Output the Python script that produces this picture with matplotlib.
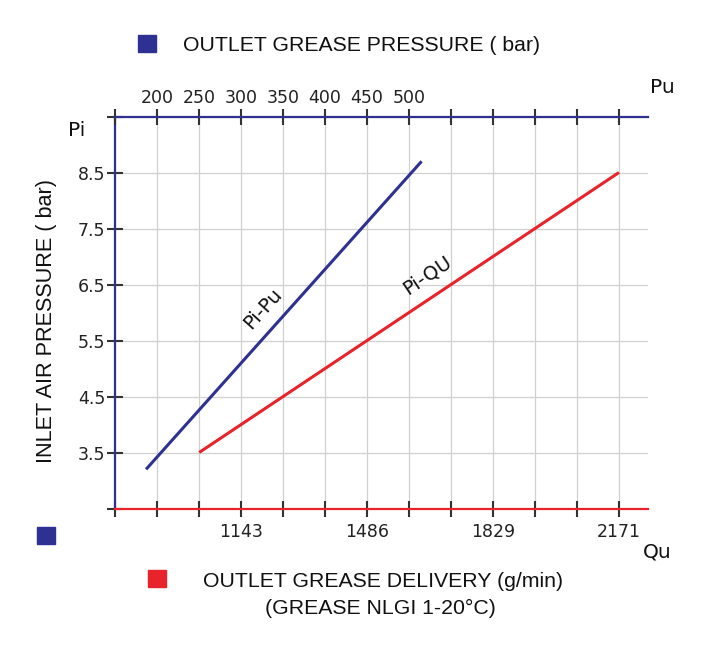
import matplotlib.pyplot as plt
from matplotlib.patches import Rectangle

# valores
qu_ticks = [800, 914, 1029, 1143, 1257, 1371, 1486, 1600, 1714, 1829, 1943, 2057, 2171]
qu_labels = ['', '', '', '1143', '', '', '1486', '', '', '1829', '', '', '2171']
pu_ticks = [150, 200, 250, 300, 350, 400, 450, 500, 550, 600, 650, 700, 750]
pu_labels = ['', '200', '250', '300', '350', '400', '450', '500', '', '', '', '', '']
pi_ticks = [2.5, 3.5, 4.5, 5.5, 6.5, 7.5, 8.5, 9.5]
pi_labels = ['', '3.5', '4.5', '5.5', '6.5', '7.5', '8.5', '']

# linea Pi-Pu (presion de salida)
pu_line = [187, 515]
pi_pu_line = [3.2, 8.7]
# linea Pi-Qu (caudal)
qu_line = [1029, 2171]
pi_qu_line = [3.5, 8.5]

azul = '#2e3192'
rojo = '#e8232b'
W, H = 726, 672

fig = plt.figure(figsize=(W / 100, H / 100), dpi=100)
ax = fig.add_axes([115 / W, 1 - 508.5 / H, 533 / W, 392 / H])
ax.set_xlim(800, 2250)
ax.set_ylim(2.5, 9.5)

ax2 = ax.twiny()
ax2.set_xlim(150, 784.5)

ax.plot(qu_line, pi_qu_line, color=rojo, lw=2.2, solid_capstyle='butt')
ax2.plot(pu_line, pi_pu_line, color=azul, lw=2.2, solid_capstyle='butt')

ax.set_xticks(qu_ticks)
ax.set_xticklabels(qu_labels)
ax.set_yticks(pi_ticks)
ax.set_yticklabels(pi_labels)
ax2.set_xticks(pu_ticks)
ax2.set_xticklabels(pu_labels)

ax.grid(True, color='#d0d0d0', lw=0.9)
ax.set_axisbelow(True)

for a in (ax, ax2):
    for s in a.spines.values():
        s.set_visible(False)
ax.spines['left'].set_visible(True)
ax.spines['left'].set_color(azul)
ax.spines['left'].set_linewidth(1.6)
ax.spines['bottom'].set_visible(True)
ax.spines['bottom'].set_color(rojo)
ax.spines['bottom'].set_linewidth(1.6)
ax2.spines['top'].set_visible(True)
ax2.spines['top'].set_color(azul)
ax2.spines['top'].set_linewidth(1.6)

fuente = ['Liberation Sans', 'DejaVu Sans']
fuente_num = ['DejaVu Sans']
ax.tick_params(axis='x', direction='inout', length=11, width=1.5, color='#333333',
               pad=5, labelsize=12.5, labelcolor='#222222')
ax.tick_params(axis='y', direction='inout', length=11, width=1.5, color='#333333',
               pad=1.5, labelsize=12.5, labelcolor='#222222')
ax2.tick_params(axis='x', direction='inout', length=11, width=1.5, color='#333333',
                pad=1.5, labelsize=12.5, labelcolor='#222222')
for lab in ax.get_xticklabels() + ax.get_yticklabels() + ax2.get_xticklabels():
    lab.set_family(fuente_num)

# etiquetas de las lineas
ax2.text(326, 6.07, 'Pi-Pu', rotation=48, ha='center', va='center',
         rotation_mode='anchor', fontsize=14, family=fuente_num, color='#111111')
ax.text(1649, 6.66, 'Pi-QU', rotation=34, ha='center', va='center',
        rotation_mode='anchor', fontsize=14, family=fuente_num, color='#111111')


def fx(x):
    return x / W


def fy(y):
    return 1 - y / H


fig.text(fx(47), fy(321), 'INLET AIR PRESSURE ( bar)', rotation=90, ha='center',
         va='center', fontsize=15.6, family=fuente, color='#111111')
fig.text(fx(68), fy(136), 'Pi', fontsize=14.5, family=fuente_num, color='#111111')
fig.text(fx(650), fy(93), 'Pu', fontsize=14.5, family=fuente_num, color='#111111')
fig.text(fx(643), fy(558), 'Qu', fontsize=14.5, family=fuente_num, color='#111111')

# leyendas con cuadrados
fig.add_artist(Rectangle((fx(138), fy(52)), 18 / W, 17 / H, color=azul))
fig.text(fx(183), fy(51), 'OUTLET GREASE PRESSURE ( bar)', fontsize=15.3,
         family=fuente, color='#111111')
fig.add_artist(Rectangle((fx(37), fy(544)), 18 / W, 17 / H, color=azul))
fig.add_artist(Rectangle((fx(148), fy(587)), 18 / W, 17 / H, color=rojo))
fig.text(fx(203), fy(587), 'OUTLET GREASE DELIVERY (g/min)', fontsize=15.3,
         family=fuente, color='#111111')
fig.text(fx(265), fy(614), '(GREASE NLGI 1-20°C)', fontsize=15.3,
         family=fuente, color='#111111')

fig.savefig('out.png', dpi=100)
